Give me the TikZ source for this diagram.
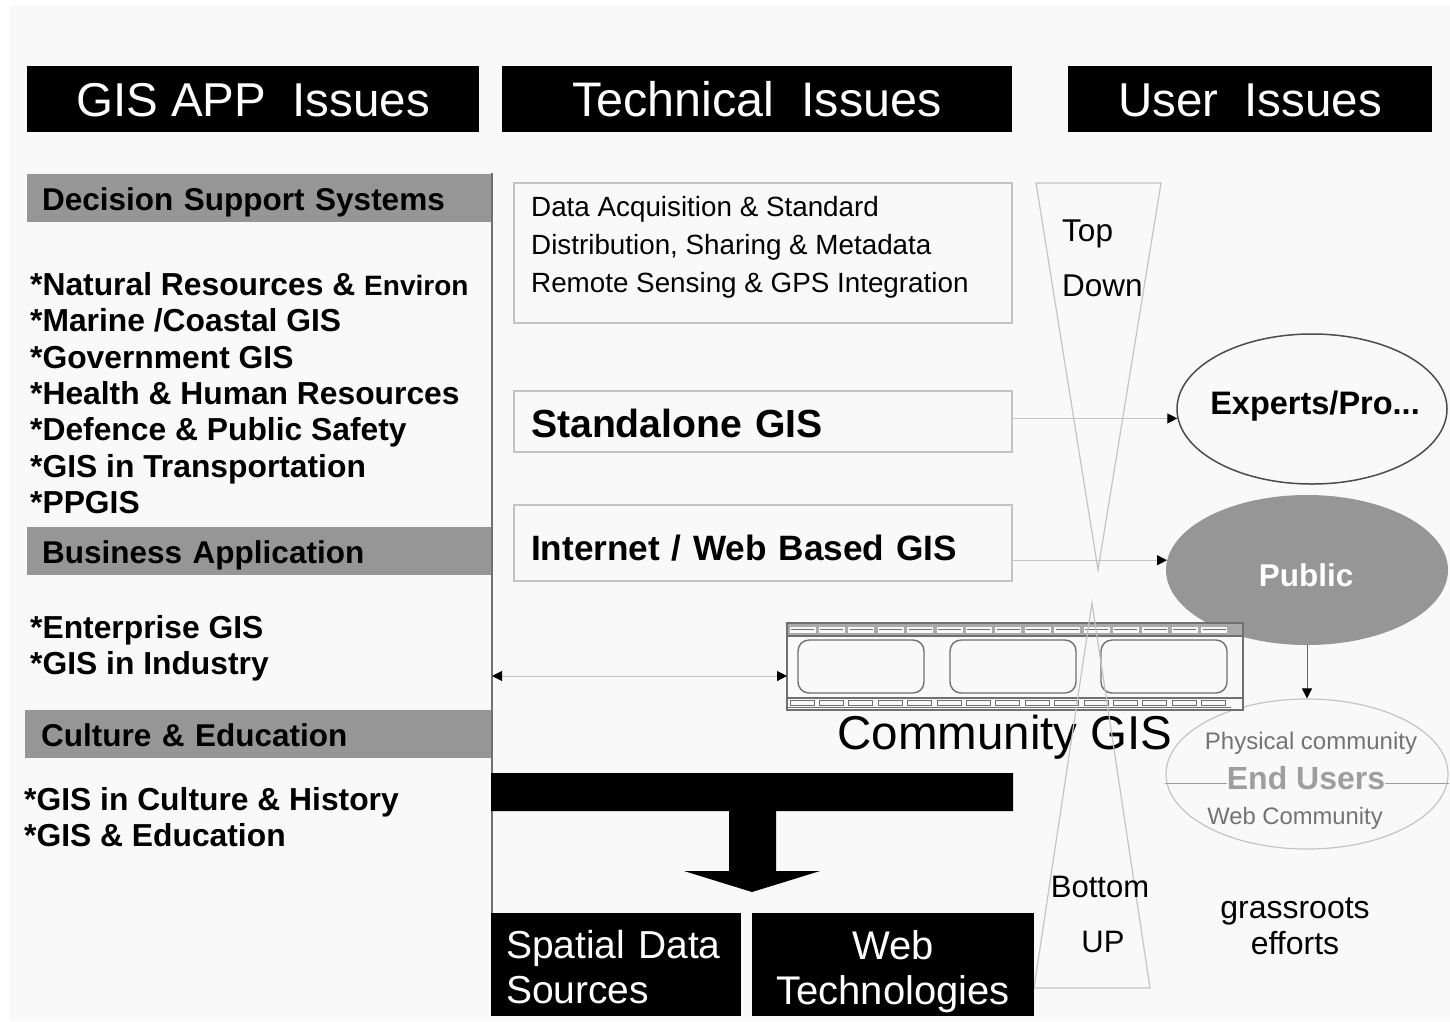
\documentclass[tikz,border=0pt]{standalone}
\usepackage{fontspec}
\setmainfont{Liberation Sans}
\usepackage{tikz}
\usetikzlibrary{arrows.meta}
\usetikzlibrary{shapes.geometric}
\definecolor{paper}{HTML}{F9F9F9}
\definecolor{band}{HTML}{969696}
\definecolor{thinline}{HTML}{C4C4C4}
\definecolor{filmline}{HTML}{707070}
\newcommand{\fs}[2]{\fontsize{#1}{#2}\selectfont}
\tikzset{
	blackbox/.style={fill=black,text=white,inner sep=0pt},
	header/.style={blackbox,minimum height=66pt,text height=44pt,text depth=10pt,font=\fs{47.5}{52}},
	bandbox/.style={fill=band,anchor=west,inner ysep=0pt,inner xsep=15pt,minimum height=48pt,text width=435pt,align=left,text height=30pt,text depth=5pt,font=\fs{31.5}{36}\bfseries},
	listtext/.style={anchor=north west,inner sep=0pt,align=left,font=\fs{31.8}{36.4}\bfseries},
	techbox/.style={draw=thinline,line width=1.2pt,inner ysep=0pt,inner xsep=17pt,minimum width=498pt,text width=464pt,align=left},
	label/.style={inner sep=0pt,align=center},
	tip/.style={-{Triangle[black,length=10pt,width=10pt]},draw=thinline,line width=1pt},
	hole/.style={fill=paper,draw=filmline,line width=1pt}
}
\begin{document}
\begin{tikzpicture}[x=1pt,y=-1pt]
	\useasboundingbox (0,0) rectangle (1450,1021);
	\fill[white] (0,0) rectangle (1450,1021);
	\fill[paper] (10,5) rectangle (1450,1021);
	% headers
	\node[header,minimum width=452pt] (apphead) at (253,99) {GIS APP\ \ Issues};
	\node[header,minimum width=510pt,font=\fs{48.5}{52}] (techhead) at (757,99) {Technical\ \ Issues};
	\node[header,minimum width=364pt] (userhead) at (1250,99) {User\ \ Issues};
	% left column
	\node[bandbox,minimum width=465pt] (decision) at (27,197.5) {Decision Support Systems};
	\node[bandbox,minimum width=465pt] (business) at (27,551) {Business Application};
	\node[bandbox,minimum width=467pt,inner xsep=16pt] (culture) at (25,734) {Culture \& Education};
	\node[listtext] (applist) at (30,272) {*Natural Resources \& {\fs{28}{36.4}Environ}\\*Marine /Coastal GIS\\*Government GIS\\*Health \& Human Resources\\*Defence \& Public Safety\\*GIS in Transportation\\*PPGIS};
	\node[listtext] (buslist) at (30,615) {*Enterprise GIS\\*GIS in Industry};
	\node[listtext] (culist) at (24,787) {*GIS in Culture \& History\\*GIS \& Education};
	\draw[filmline,line width=1.5pt] (492,173) -- (492,1016);
	% technical boxes
	\node[techbox,minimum height=140pt] (sources) at (763,253) {};
	\node[label,anchor=west,align=left,font=\fs{27.8}{38}] (sourcestext) at (531,247) {Data Acquisition \& Standard\\Distribution, Sharing \& Metadata\\Remote Sensing \& GPS Integration};
	\node[techbox,minimum height=61pt,text height=38pt,text depth=7pt,font=\fs{39.2}{44}\bfseries] (standalone) at (763,421.5) {Standalone GIS};
	\node[techbox,minimum height=76pt,text height=40pt,text depth=6pt,font=\fs{35.2}{42}\bfseries] (internet) at (763,543) {Internet / Web Based GIS};
	% user ellipses
	\node[ellipse,draw=black!70,line width=1.5pt,minimum width=270pt,minimum height=150pt,inner sep=0pt] (experts) at (1312,409) {};
	\node[label,font=\fs{32.5}{38}\bfseries] (expertstext) at (1315,406) {Experts/Pro...};
	\node[ellipse,fill=band,minimum width=282pt,minimum height=150pt,inner sep=0pt] (public) at (1307,570) {};
	\node[label,text=white,font=\fs{31.5}{36}\bfseries] (publictext) at (1306,575) {Public};
	\node[ellipse,draw=thinline,line width=1.2pt,minimum width=282pt,minimum height=150pt,inner sep=0pt] (endusers) at (1307,774) {};
	\node[label,text=black!55,font=\fs{24}{30}] (physical) at (1311,743) {Physical community};
	\node[label,text=black!38,font=\fs{32}{36}\bfseries] (endtext) at (1306,778) {End Users};
	\node[label,text=black!55,font=\fs{23.8}{30}] (webcomm) at (1295,818) {Web Community};
	\draw[thinline!80!black,line width=1pt] ([yshift=-5pt]endtext.west -| endusers.west) -- ([yshift=-5pt]endtext.west);
	\draw[thinline!80!black,line width=1pt] ([yshift=-5pt]endtext.east) -- ([yshift=-5pt]endtext.east -| endusers.east);
	\draw[tip] (standalone.east |- experts.184) -- (experts.184);
	\draw[tip] (internet.east |- public.176) -- (public.176);
	\draw[tip,draw=black!60] (public.south) -- (endusers.north);
	% film strip
	\draw[filmline,line width=1.5pt,fill=paper] (787,623) rectangle (1243,710);
	\draw[filmline,line width=1.5pt] (787,636) -- (1243,636) (787,698) -- (1243,698);
	\fill[filmline!60] (788,624) rectangle (1242,635);
	\foreach \i in {0,...,14} {
		\pgfmathsetmacro{\hx}{788 + \i * 29.4}
		\fill[paper] (\hx+1.5,626.5) rectangle +(26,6);
		\draw[filmline,line width=1pt] (\hx+3,629.5) -- +(23,0);
		\draw[hole] (\hx+2,700.5) rectangle +(24,5);
	}
	\draw[filmline,line width=1pt] (787,707.5) -- (1231,707.5);
	\foreach \x in {798,950,1101} {
		\draw[filmline,line width=1.4pt,rounded corners=11pt] (\x,640) rectangle +(126,53);
	}
	\node[label,font=\fs{47.5}{52}] (communitygis) at (1005,737) {Community GIS};
	\coordinate (filmport) at (787,676);
	\coordinate (appport) at (492,676);
	\draw[{Triangle[black,length=10pt,width=10pt]}-{Triangle[black,length=10pt,width=10pt]},draw=thinline,line width=1pt] (appport) -- (filmport);
	% top down and bottom up
	\draw[thinline,line width=1.2pt] (1036,183) -- (1161,183) -- (1098,570) -- cycle;
	\draw[thinline,line width=1.2pt] (1092,603) -- (1150,988) -- (1034,988) -- cycle;
	\node[label,anchor=west,font=\fs{31.5}{36}] (toptext) at (1062,234) {Top};
	\node[label,anchor=west,font=\fs{31.5}{36}] (downtext) at (1062,286) {Down};
	\node[label,font=\fs{31}{36}] (bottomtext) at (1100,887) {Bottom};
	\node[label,font=\fs{31}{36}] (uptext) at (1103,942) {UP};
	\node[label,font=\fs{32}{36}] (grassroots) at (1295,926) {grassroots\\efforts};
	% data and web
	\fill[black] (491,773) -- (1013,773) -- (1013,811) -- (776,811) -- (776,871) -- (820,871) -- (752,892) -- (684,871) -- (729,871) -- (729,811) -- (491,811) -- cycle;
	\node[blackbox,minimum width=250pt,minimum height=103pt,text width=220pt,align=left,font=\fs{39}{45}] (spatial) at (616,964.5) {\rule{0pt}{34pt}Spatial Data\\Sources};
	\node[blackbox,minimum width=282pt,minimum height=103pt,align=center,font=\fs{40}{45}] (webtech) at (893,964.5) {\rule{0pt}{43pt}Web\\Technologies};
\end{tikzpicture}
\end{document}
